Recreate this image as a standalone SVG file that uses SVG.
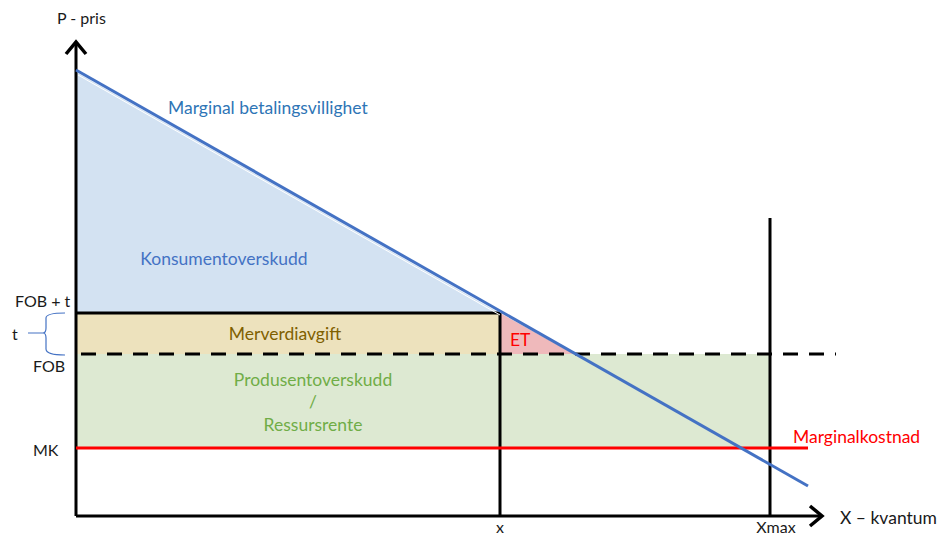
<svg xmlns="http://www.w3.org/2000/svg" width="937" height="537" viewBox="0 0 937 537">
<style>
text{font-family:Lato,"Open Sans","Liberation Sans",sans-serif;font-size:17.5px;fill:#1a1a1a}
.sm{font-size:16px}
.ax{stroke:#000;stroke-width:3;fill:none}
.arr{stroke:#000;stroke-width:3.5;fill:none;stroke-linejoin:miter}
</style>
<rect width="937" height="537" fill="#fff"/>
<g id="areas">
<polygon id="konsument-area" points="76,72 498,312 76,312" fill="#d3e2f2"/>
<rect id="mva-area" x="76" y="313" width="424" height="41" fill="#ede2bd"/>
<polygon id="et-area" points="500,313 500,354 574,354" fill="#efb9bb"/>
<rect id="produsent-area" x="76" y="354" width="694" height="94" fill="#dde9d2"/>
</g>
<g id="connectors">
<line x1="76" y1="516" x2="76" y2="42" class="ax"/>
<polyline points="66,54 76,42 86,54" class="arr"/>
<line x1="76" y1="516" x2="822" y2="516" class="ax"/>
<polyline points="810,506 822,516 810,526" class="arr"/>
<line x1="770" y1="218" x2="770" y2="516" class="ax"/>
<line x1="500" y1="313" x2="500" y2="516" class="ax"/>
<line x1="76" y1="313" x2="500" y2="313" class="ax"/>
<line x1="76" y1="354" x2="836" y2="354" stroke="#000" stroke-width="3" stroke-dasharray="15,11" stroke-dashoffset="-5"/>
<line x1="76" y1="448" x2="808" y2="448" stroke="#f00" stroke-width="3"/>
<line x1="78" y1="75" x2="500" y2="315" stroke="#fff" stroke-width="1"/>
<line x1="76" y1="70" x2="808" y2="486" stroke="#4472c4" stroke-width="3"/>
<path d="M28,333 H43 Q46,333 46,328 V318 Q46,313 65,313 M43,333 Q46,333 46,338 V349 Q46,355 65,355" stroke="#4472c4" stroke-width="1.2" fill="none"/>
</g>
<g id="labels">
<text x="57" y="24" class="sm">P - pris</text>
<text x="168" y="114" style="fill:#2e75b6">Marginal betalingsvillighet</text>
<text x="224" y="265" text-anchor="middle" style="fill:#4472c4">Konsumentoverskudd</text>
<text x="15" y="307" class="sm">FOB + t</text>
<text x="12" y="340" class="sm">t</text>
<text x="33" y="372" class="sm">FOB</text>
<text x="285" y="340" text-anchor="middle" style="fill:#7f6000">Merverdiavgift</text>
<text x="510" y="346" style="fill:#f00">ET</text>
<text x="313" y="386" text-anchor="middle" style="fill:#70ad47">Produsentoverskudd</text>
<text x="313" y="408" text-anchor="middle" style="fill:#70ad47">/</text>
<text x="313" y="431" text-anchor="middle" style="fill:#70ad47">Ressursrente</text>
<text x="33" y="456" class="sm">MK</text>
<text x="793" y="443" style="fill:#f00">Marginalkostnad</text>
<text x="500" y="533" text-anchor="middle" class="sm">x</text>
<text x="776" y="533" text-anchor="middle" class="sm">Xmax</text>
<text x="840" y="524">X – kvantum</text>
</g>
</svg>
